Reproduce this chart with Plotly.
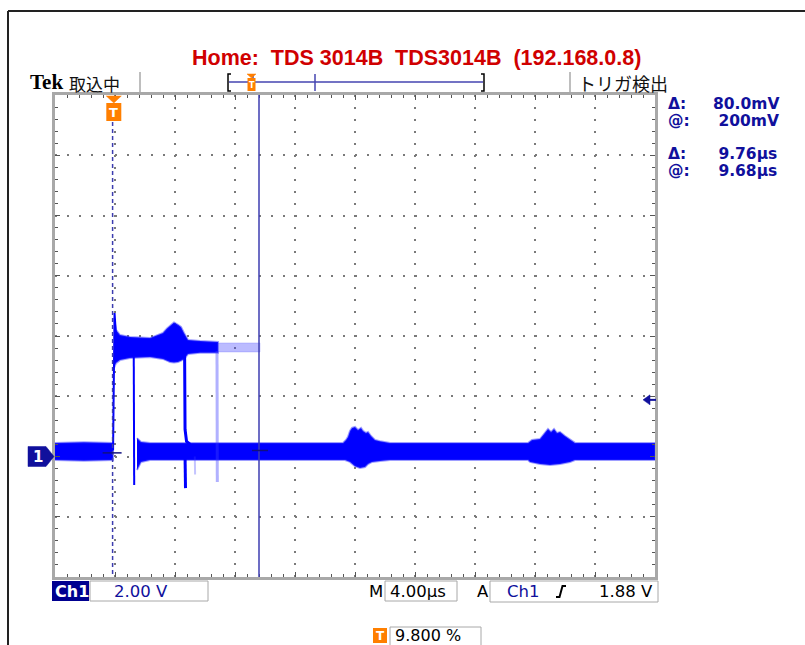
import plotly.graph_objects as go

# ---------------- data (time in µs, voltage in V) ----------------
X_RANGE = [-3.92, 36.08]          # 10 div x 4.00 µs, trigger at 9.8 %
Y_RANGE = [-4.0, 12.0]            # 8 div x 2.00 V, ground 2 div above bottom
X_DIV = 4.0
Y_DIV = 2.0

# baseline band before the trigger
low_a_t = [-3.92, -2.0, -0.05]
low_a_hi = [0.45, 0.47, 0.45]
low_a_lo = [-0.12, -0.14, -0.12]

# high level band (all acquisitions)
high_t = [0.013, 0.147, 0.413, 1.08, 2.413, 3.28, 3.547, 3.747, 4.013, 4.28, 4.48, 4.68, 4.947, 5.747, 6.947]
high_hi = [4.60, 4.20, 4.03, 3.97, 3.93, 4.10, 4.25, 4.33, 4.45, 4.37, 4.30, 4.10, 3.87, 3.83, 3.80]
high_lo = [2.94, 3.10, 3.20, 3.27, 3.30, 3.24, 3.18, 3.14, 3.12, 3.14, 3.18, 3.24, 3.40, 3.44, 3.44]

# faint persistence of the high level
faint_t = [6.947, 9.747]
faint_hi = [3.77, 3.77]
faint_lo = [3.47, 3.47]

# baseline band after the falls (upper and lower envelopes)
low_b_hi_t = [1.547, 1.813, 2.413, 15.28, 15.48, 15.613, 15.747, 15.88, 16.08, 16.28, 16.48, 16.613,
              16.813, 16.947, 17.147, 17.413, 17.747, 18.413, 27.613, 27.88, 28.413, 28.747, 28.947,
              29.147, 29.347, 29.547, 29.747, 30.08, 30.413, 30.747, 36.08]
low_b_hi = [0.61, 0.48, 0.45, 0.45, 0.55, 0.65, 0.85, 0.95, 0.98, 0.88, 0.95, 0.85,
            0.78, 0.81, 0.68, 0.55, 0.51, 0.45, 0.45, 0.55, 0.58, 0.78, 0.91,
            0.81, 0.91, 0.78, 0.81, 0.68, 0.55, 0.45, 0.45]
low_b_lo_t = [1.547, 1.813, 2.413, 15.413, 15.747, 16.08, 16.413, 16.747, 16.947, 17.213, 17.747,
              18.413, 27.613, 27.747, 28.413, 29.08, 29.747, 30.413, 30.747, 36.08]
low_b_lo = [-0.45, -0.18, -0.12, -0.12, -0.18, -0.32, -0.38, -0.35, -0.25, -0.18, -0.15,
            -0.12, -0.12, -0.18, -0.25, -0.28, -0.25, -0.18, -0.12, -0.12]

# edges and spikes
rise_t = [-0.05, 0.05, 0.15]
rise_v = [0.2, 4.76, 4.0]
fall1_t = [1.33, 1.36]
fall1_v = [3.3, -0.95]
fall2_t = [4.72, 4.75, 4.85, 5.1]
fall2_v = [3.5, 0.9, 0.5, 0.4]
spike2_t = [4.75, 4.78]
spike2_v = [0.0, -1.05]
fall3_t = [6.88, 6.90]
fall3_v = [3.5, -0.85]
spike_faint_t = [5.40, 5.42]
spike_faint_v = [0.0, -0.6]

# cursors / trigger
CURSOR_T = [-0.08, 9.68]      # dashed (inactive), solid (active)
CURSOR_V = [0.12, 0.20]
TRIG_LEVEL = 1.88
TRIG_POS = 0.0

TITLE = "Home:\u00a0\u00a0TDS 3014B\u00a0\u00a0TDS3014B\u00a0\u00a0(192.168.0.8)"
READOUTS = [("Δ:", "80.0mV"), ("@:", "\u00a0200mV"), ("Δ:", "\u00a09.76µs"), ("@:", "\u00a09.68µs")]
CH1_SCALE = "2.00 V"
TIME_SCALE = "4.00µs"
TRIG_READ = "1.88 V"
TRIG_PCT = "9.800 %"

# ---------------- layout geometry ----------------
W, H = 805, 645
PL, PT, PW, PH = 55, 95, 600, 482

def px(x):
    return (x - PL) / PW

def py(y):
    return (PT + PH - y) / PH

def t2px(t):
    return PL + (t - X_RANGE[0]) / (X_RANGE[1] - X_RANGE[0]) * PW

def v2py(v):
    return PT + (Y_RANGE[1] - v) / (Y_RANGE[1] - Y_RANGE[0]) * PH

BLUE = "#0000FF"
EDGE = "rgba(40,40,255,0.45)"
NAVY = "#10109C"
CURS = "#3C3CB0"
ORANGE = "#FF7F00"
GRAY = "#A8A8A8"

fig = go.Figure()

def band(t_hi, hi, t_lo, lo, color, edge, ew=2):
    fig.add_trace(go.Scatter(
        x=list(t_hi) + list(t_lo)[::-1], y=list(hi) + list(lo)[::-1],
        fill="toself", fillcolor=color, mode="lines",
        line=dict(color=edge, width=ew), hoverinfo="skip", showlegend=False))

def stroke(t, v, color, width):
    fig.add_trace(go.Scatter(x=t, y=v, mode="lines", line=dict(color=color, width=width),
                             hoverinfo="skip", showlegend=False))

band(faint_t, faint_hi, faint_t, faint_lo, "rgba(60,60,255,0.35)", "rgba(60,60,255,0.2)", 1)
band(low_a_t, low_a_hi, low_a_t, low_a_lo, BLUE, EDGE)
band(high_t, high_hi, high_t, high_lo, BLUE, EDGE)
band(low_b_hi_t, low_b_hi, low_b_lo_t, low_b_lo, BLUE, EDGE)
stroke(rise_t, rise_v, BLUE, 2)
stroke(fall1_t, fall1_v, BLUE, 2)
stroke(fall2_t, fall2_v, BLUE, 3)
stroke(spike2_t, spike2_v, BLUE, 3)
stroke(fall3_t, fall3_v, "rgba(60,60,255,0.4)", 3)
stroke(spike_faint_t, spike_faint_v, "rgba(60,60,255,0.3)", 2)

axis_common = dict(
    showgrid=True, gridcolor="#7A7A7A", griddash="2px,10px", gridwidth=2,
    showline=True, linecolor=GRAY, linewidth=3, mirror="ticks",
    ticks="inside", ticklen=5, tickcolor="#555", tickwidth=1,
    showticklabels=False, zeroline=False, fixedrange=True,
)
fig.update_xaxes(range=X_RANGE, tick0=X_RANGE[0], dtick=X_DIV,
                 minor=dict(tick0=X_RANGE[0], dtick=X_DIV / 5, ticks="inside", ticklen=3,
                            tickcolor="#555", showgrid=False), **axis_common)
fig.update_yaxes(range=Y_RANGE, tick0=Y_RANGE[0], dtick=Y_DIV,
                 minor=dict(tick0=Y_RANGE[0], dtick=Y_DIV / 5, ticks="inside", ticklen=3,
                            tickcolor="#555", showgrid=False), **axis_common)

shapes = []
ann = []

def line(x0, y0, x1, y1, color, width, dash=None):
    d = dict(type="line", xref="paper", yref="paper", x0=px(x0), y0=py(y0), x1=px(x1), y1=py(y1),
             line=dict(color=color, width=width))
    if dash:
        d["line"]["dash"] = dash
    shapes.append(d)

def rect(x0, y0, x1, y1, fill, lc=None, lw=0):
    shapes.append(dict(type="rect", xref="paper", yref="paper", x0=px(x0), y0=py(y0), x1=px(x1), y1=py(y1),
                       fillcolor=fill, line=dict(color=lc or fill, width=lw), layer="above"))

def poly(pts, fill):
    path = "M " + " L ".join(f"{px(a):.5f},{py(b):.5f}" for a, b in pts) + " Z"
    shapes.append(dict(type="path", xref="paper", yref="paper", path=path, fillcolor=fill,
                       line=dict(color=fill, width=0.5), layer="above"))

def text(x, y, s, size, color="black", family="DejaVu Sans", bold=False, anchor="left"):
    ann.append(dict(xref="paper", yref="paper", x=px(x), y=py(y), text=f"<b>{s}</b>" if bold else s,
                    showarrow=False, xanchor=anchor, yanchor="middle",
                    font=dict(size=size, color=color, family=family)))

# outer frame
line(8, 11, 805, 11, "#222", 2)
line(8, 11, 8, 645, "#222", 2)

# cursors
xd = t2px(CURSOR_T[0])
xs = t2px(CURSOR_T[1])
line(xd, 122, xd, PT + PH, CURS, 1.5, dash="4px,3px")
line(xs, PT, xs, PT + PH, CURS, 1.5)
line(xd - 10, v2py(CURSOR_V[0]), xd + 9, v2py(CURSOR_V[0]), "#101080", 1.5)
line(xs - 7, v2py(CURSOR_V[1]), xs + 9, v2py(CURSOR_V[1]), "#101080", 1.5)

# trigger position marker (top)
xt = t2px(TRIG_POS)
poly([(xt - 7.5, 96), (xt + 7.5, 96), (xt, 103)], ORANGE)
rect(xt - 7.5, 103, xt + 7.5, 121, ORANGE)
text(xt, 112, "T", 13, "white", "DejaVu Sans", True, "center")

# trigger level arrow (right)
yl = v2py(TRIG_LEVEL)
poly([(643, yl), (650, yl - 5), (650, yl + 5)], NAVY)
line(650, yl, 656, yl, NAVY, 2)

# channel 1 ground marker
yg = v2py(0)
poly([(28, yg - 10), (46, yg - 10), (54, yg), (46, yg + 10), (28, yg + 10)], NAVY)
text(37.5, yg + 0.5, "1", 15, "white", "DejaVu Sans", True, "center")

# title & status bar
text(416, 58, TITLE, 21.5, "#D00000", "Liberation Sans", True, "center")
text(28, 82, "Tek", 21, "black", "Liberation Serif", True)
text(67, 83, "取込中", 17, "#111", "Noto Sans CJK JP")
line(140, 72, 140, 93, GRAY, 1.5)
line(570, 72, 570, 93, GRAY, 1.5)
text(576, 83, "トリガ検出", 18, "#111", "Noto Sans CJK JP")
# record view
shapes.append(dict(type="path", xref="paper", yref="paper",
                   path=f"M {px(231)},{py(74)} L {px(228)},{py(74)} L {px(228)},{py(91)} L {px(231)},{py(91)}",
                   line=dict(color="black", width=1.5)))
shapes.append(dict(type="path", xref="paper", yref="paper",
                   path=f"M {px(481)},{py(74)} L {px(484)},{py(74)} L {px(484)},{py(91)} L {px(481)},{py(91)}",
                   line=dict(color="black", width=1.5)))
line(229, 82, 483, 82, "#4545B0", 1.5)
line(315, 74, 315, 91, "#4545B0", 1.5)
line(253, 74, 253, 91, "#4545B0", 1.5)
poly([(247, 74), (256, 74), (251.5, 78)], ORANGE)
rect(247.5, 78, 255.5, 91, ORANGE)
text(251.5, 85, "T", 8, "white", "DejaVu Sans", True, "center")

# cursor readouts
rows_y = [104, 121, 154, 171]
for (lab, val), yy in zip(READOUTS, rows_y):
    text(666, yy, lab, 15.5, NAVY, "DejaVu Sans", True)
    text(711, yy, val, 15.5, NAVY, "DejaVu Sans", True)

# bottom readouts
rect(52, 581, 89, 601, "#000090")
text(53, 591, "Ch1", 16, "white", "DejaVu Sans", True)
rect(90, 581, 208, 601, "white", GRAY, 1)
text(112, 591, CH1_SCALE, 16.5, NAVY, "DejaVu Sans", False)
text(367, 591, "M", 16.5, "black", "DejaVu Sans", False)
rect(385, 581, 457, 601, "white", GRAY, 1)
text(388, 591, TIME_SCALE, 16.5, "black", "DejaVu Sans", False)
text(475, 591, "A", 16.5, "black", "DejaVu Sans", False)
rect(490, 581, 658, 602, "white", GRAY, 1)
text(505, 591, "Ch1", 16.5, NAVY, "DejaVu Sans", False)
shapes.append(dict(type="path", xref="paper", yref="paper",
                   path=f"M {px(556)},{py(597)} L {px(559.5)},{py(597)} L {px(562.5)},{py(586)} L {px(566)},{py(586)}",
                   line=dict(color="black", width=2)))
text(597, 591, TRIG_READ, 16.5, "black", "DejaVu Sans", False)
rect(373, 628, 387, 643, ORANGE)
text(380, 635.5, "T", 12, "white", "DejaVu Sans", True, "center")
rect(390, 627, 481, 646, "white", GRAY, 1)
text(393, 635, TRIG_PCT, 16, "black", "DejaVu Sans", False)

fig.update_layout(width=W, height=H, margin=dict(l=PL, r=W - PL - PW, t=PT, b=H - PT - PH),
                  paper_bgcolor="white", plot_bgcolor="white", shapes=shapes, annotations=ann,
                  showlegend=False)
fig.write_html("out.html", config={"displayModeBar": False},
               post_script="document.body.style.margin='0px';")
